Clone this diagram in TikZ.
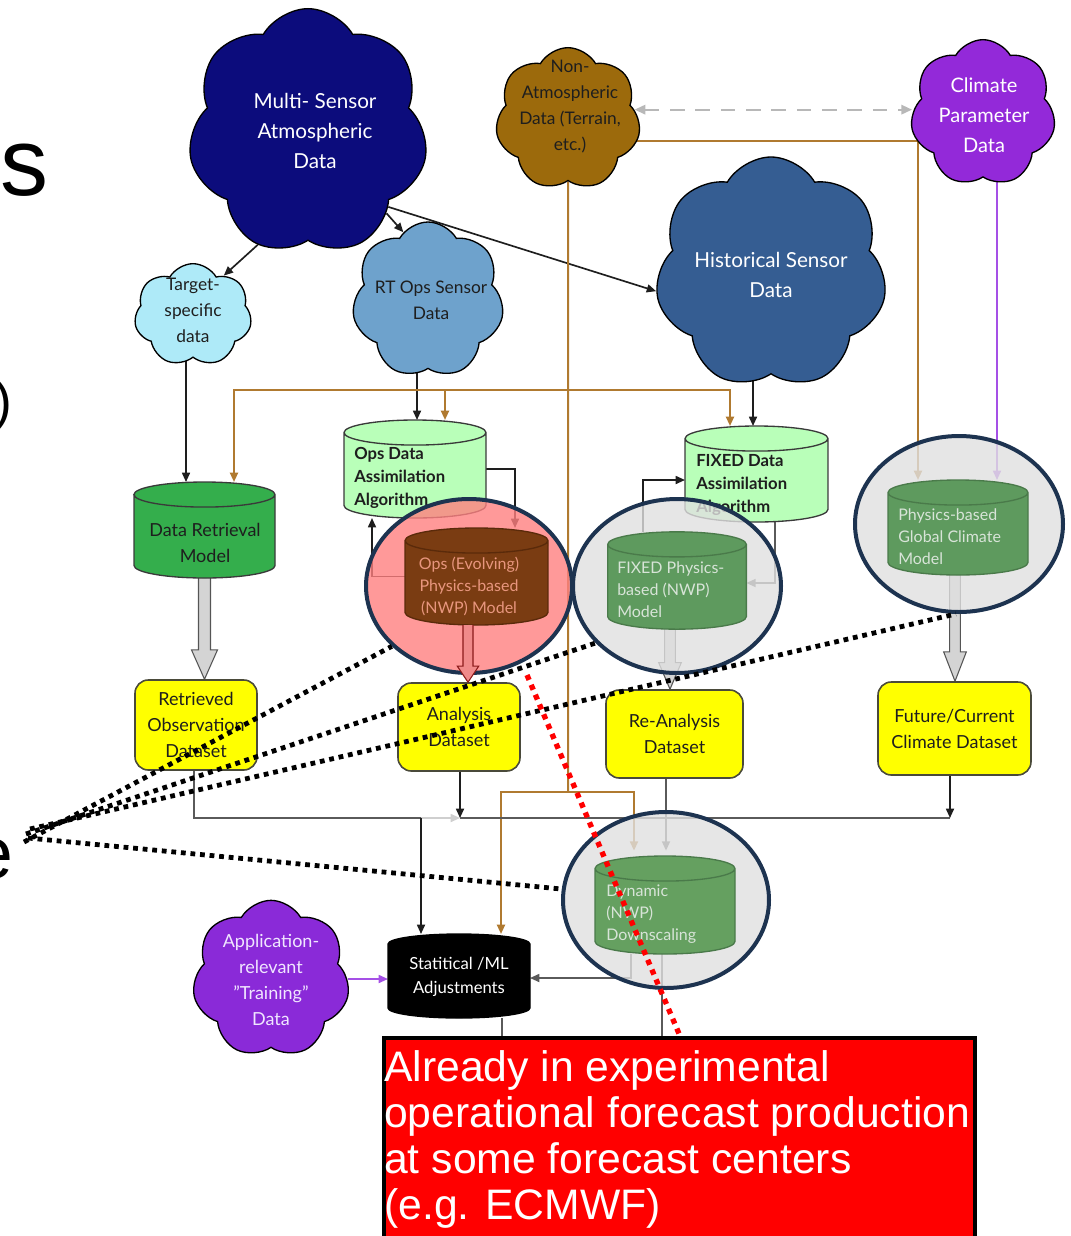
\documentclass[tikz,border=0pt]{standalone}
\usepackage{fontspec}
\setmainfont{Lato}
\newfontfamily\arialf{Liberation Sans}
\usetikzlibrary{shapes.geometric,shapes.symbols,arrows.meta,calc}
\pgfdeclarelayer{bg}\pgfdeclarelayer{fg}\pgfsetlayers{bg,main,fg}
\definecolor{navy}{HTML}{0C0C7C}
\definecolor{nabrown}{HTML}{9C6A0C}
\definecolor{cppurple}{HTML}{9329D9}
\definecolor{hsblue}{HTML}{355D92}
\definecolor{tgcyan}{HTML}{AEEAF8}
\definecolor{rtblue}{HTML}{6EA2CC}
\definecolor{apppurple}{HTML}{8A2AD8}
\definecolor{dagreen}{HTML}{B9FFB9}
\definecolor{drmgreen}{HTML}{34AE4C}
\definecolor{opsbrown}{HTML}{7A3C12}
\definecolor{opstext}{HTML}{E8967E}
\definecolor{physgreen}{HTML}{5E9A5E}
\definecolor{dyngreen}{HTML}{65A060}
\definecolor{phystext}{HTML}{D8E4D8}
\definecolor{ringnavy}{HTML}{1D3350}
\definecolor{ringgrey}{HTML}{E0E0E0}
\definecolor{ringred}{HTML}{FF8080}
\definecolor{lnbrown}{HTML}{B07A30}
\definecolor{lnpurple}{HTML}{A550E6}
\definecolor{lngrey}{HTML}{5A5A5A}
\definecolor{lnblack}{HTML}{1E1E1E}
\definecolor{lnlight}{HTML}{CFCFCF}
\definecolor{dashgrey}{HTML}{B8B8B8}
\definecolor{boxyellow}{HTML}{FFFF00}
\definecolor{ybord}{HTML}{4A4A3A}
\definecolor{txtdark}{HTML}{1E1E1E}
\definecolor{cylbord}{HTML}{3A3A3A}
\definecolor{opsbord}{HTML}{5A2A0A}
\definecolor{physbord}{HTML}{4A7A4A}
\definecolor{hollowfill}{HTML}{D4D4D4}
\definecolor{hollowdraw}{HTML}{555555}
\definecolor{redarrfill}{HTML}{F08A8A}
\definecolor{redarrdraw}{HTML}{8B1A1A}
\definecolor{apptext}{HTML}{F0E6FF}
\newcommand{\hollowarr}[7]{%
  \draw[draw=#7, fill=#6, line width=0.8pt, line join=miter] let \p1=#1, \p2=#2 in
    ({\x1-#3},{\y1}) -- ({\x1-#3},{\y2+#5}) -- ({\x1-#4},{\y2+#5}) -- ({\x1},{\y2})
    -- ({\x1+#4},{\y2+#5}) -- ({\x1+#3},{\y2+#5}) -- ({\x1+#3},{\y1});
}
% cylinder drawn round a named (invisible) node: #1 node, #2 x radius, #3 y radius, #4 fill, #5 draw
\newcommand{\drawcyl}[5]{%
  \draw[fill=#4, draw=#5, line width=1pt] let \p1=(#1.north west), \p2=(#1.south east) in
    (\x1,{\y1-#3}) -- (\x1,{\y2+#3}) arc[start angle=180, end angle=360, x radius=#2, y radius=#3]
    -- (\x2,{\y1-#3}) arc[start angle=0, end angle=180, x radius=#2, y radius=#3] -- cycle
    (\x1,{\y1-#3}) arc[start angle=180, end angle=360, x radius=#2, y radius=#3];
}
\tikzset{
  cloudn/.style={cloud, cloud puffs=7, cloud puff arc=120, cloud ignores aspect, draw=black, line width=1pt, inner sep=0pt},
  cylbox/.style={rectangle, inner sep=0pt, outer sep=0pt},
  ring/.style={ellipse, draw=ringnavy, line width=3pt, fill opacity=0.8, inner sep=0pt},
  ybox/.style={rectangle, rounded corners=10pt, draw=ybord, line width=1.2pt, fill=boxyellow, align=center, inner sep=0pt, text=txtdark, font={\fontsize{13.5}{19.5}\selectfont}},
  lbl/.style={inner sep=0pt, align=center},
  conn/.style={line width=1.25pt, draw=#1, -{Triangle[length=7pt,width=6pt]}},
  conn/.default=lnblack,
  segln/.style={line width=1.25pt, draw=#1},
  segln/.default=lngrey,
  bconn/.style={line width=1.5pt, draw=lnbrown, -{Triangle[length=7pt,width=6pt]}},
  bseg/.style={line width=1.5pt, draw=lnbrown},
  dotl/.style={line width=3.6pt, dash pattern=on 3.6pt off 3.6pt, draw=black},
  rdot/.style={line width=4pt, dash pattern=on 4pt off 4pt, draw=red},
  dconn/.style={line width=1.5pt, draw=dashgrey, dash pattern=on 11pt off 8pt, {Triangle[length=8pt,width=7pt]}-{Triangle[length=8pt,width=7pt]}},
}
\begin{document}
\begin{tikzpicture}[x=0.75pt,y=-0.75pt]
\useasboundingbox (0,0) rectangle (1071,1236);

% cut-off slide letters at the left edge
\node[anchor=base west, inner sep=0pt, font={\arialf\fontsize{72}{72}\selectfont}] (ls) at (0,195) {s};
\node[anchor=base west, inner sep=0pt, font={\arialf\fontsize{40}{40}\selectfont}] (lp) at (-6,419) {)};
\node[anchor=base west, inner sep=0pt, font={\arialf\fontsize{55}{55}\selectfont}] (le) at (-28,878) {e};

% clouds
\node[cloudn, fill=navy, minimum width=180pt, minimum height=185pt] (ms) at (308,132) {};
\node[cloudn, fill=nabrown, minimum width=109pt, minimum height=107pt] (na) at (568,119) {};
\node[cloudn, fill=cppurple, minimum width=109pt, minimum height=110pt] (cp) at (983,113) {};
\node[cloudn, fill=hsblue, minimum width=174pt, minimum height=174pt] (hs) at (771,273) {};
\node[cloudn, fill=tgcyan, minimum width=88pt, minimum height=77pt] (tg) at (193,315) {};
\node[cloudn, fill=rtblue, minimum width=114pt, minimum height=117pt] (rt) at (428,300) {};
\node[cloudn, fill=apppurple, minimum width=118pt, minimum height=118pt] (app) at (271,979) {};

\node[lbl, text=white, font={\fontsize{15.5}{22.5}\selectfont}] (msl) at (315,131) {Multi- Sensor\\Atmospheric\\Data};
\node[lbl, text=txtdark, font={\fontsize{13}{19.5}\selectfont}] (nal) at (570,107) {Non-\\Atmospheric\\Data (Terrain,\\etc.)};
\node[lbl, text=white, font={\fontsize{15}{22.5}\selectfont}] (cpl) at (984,115) {Climate\\Parameter\\Data};
\node[lbl, text=white, font={\fontsize{15.5}{22.5}\selectfont}] (hsl) at (771,275) {Historical Sensor\\Data};
\node[lbl, text=txtdark, font={\fontsize{13}{19.5}\selectfont}] (tgl) at (193,310) {Target-\\specific\\data};
\node[lbl, text=txtdark, font={\fontsize{13}{19.5}\selectfont}] (rtl) at (431,300) {RT Ops Sensor\\Data};
\node[lbl, text=apptext, font={\fontsize{13.5}{19.5}\selectfont}] (appl) at (271,980) {Application-\\relevant\\"Training"\\Data};

% outer cylinders
\node[cylbox, minimum width=106.5pt, minimum height=73.5pt] (opsda) at (415,469) {};
\drawcyl{opsda}{53.25pt}{9.4pt}{dagreen}{cylbord}
\node[cylbox, minimum width=105.75pt, minimum height=72pt] (drm) at (204.5,530) {};
\drawcyl{drm}{52.9pt}{9.4pt}{drmgreen}{cylbord}
\node[cylbox, minimum width=107.25pt, minimum height=72pt] (fixda) at (756.5,474) {};
\drawcyl{fixda}{53.6pt}{9.4pt}{dagreen}{cylbord}
\node[cylbox, minimum width=106.5pt, minimum height=63pt] (stat) at (459,976) {};
\drawcyl{stat}{53.25pt}{7.5pt}{black}{black}

\node[lbl, align=left, text=txtdark, font={\bfseries\fontsize{12.5}{17}\selectfont}, anchor=west] (opsdal) at (354,478) {Ops Data\\Assimilation\\Algorithm};
\node[lbl, text=txtdark, font={\fontsize{13.5}{19}\selectfont}] (drml) at (205,543) {Data Retrieval\\Model};
\node[lbl, align=left, text=txtdark, font={\bfseries\fontsize{12.5}{17}\selectfont}, anchor=west] (fixdal) at (696,485) {FIXED Data\\Assimilation\\Algorithm};
\node[lbl, text=white, font={\fontsize{12.5}{18}\selectfont}] (statl) at (459,977) {Statitical /ML\\Adjustments};

% yellow datasets
\node[ybox, minimum width=91.5pt, minimum height=67.5pt] (ret) at (196,725) {Retrieved\\Observation\\Dataset};
\node[ybox, minimum width=91.5pt, minimum height=66pt] (ana) at (459,727) {Analysis\\Dataset};
\node[ybox, minimum width=102.75pt, minimum height=66pt] (rea) at (674.5,734) {Re-Analysis\\Dataset};
\node[ybox, minimum width=114.75pt, minimum height=69.75pt] (fut) at (954.5,728.5) {Future/Current\\Climate Dataset};

% rings
\node[ring, fill=ringred, minimum width=154.5pt, minimum height=130.5pt] (c1) at (469,586) {};
\node[ring, fill=ringgrey, minimum width=156pt, minimum height=130.5pt] (c2) at (677,586) {};
\node[ring, fill=ringgrey, minimum width=156pt, minimum height=132pt] (c3) at (959,524) {};
\node[ring, fill=ringgrey, minimum width=154.5pt, minimum height=132pt] (c4) at (666,900) {};

% inner cylinders
\node[cylbox, minimum width=107.25pt, minimum height=72.75pt] (opsev) at (476.5,576.5) {};
\drawcyl{opsev}{53.6pt}{9.4pt}{opsbrown}{opsbord}
\node[cylbox, minimum width=104pt, minimum height=73pt] (fixph) at (677,580.5) {};
\drawcyl{fixph}{52pt}{9.4pt}{physgreen}{physbord}
\node[cylbox, minimum width=105pt, minimum height=71.25pt] (glob) at (958,527.5) {};
\drawcyl{glob}{52.5pt}{9.4pt}{physgreen}{physbord}
\node[cylbox, minimum width=105pt, minimum height=73.5pt] (dyn) at (665,905) {};
\drawcyl{dyn}{52.5pt}{9.4pt}{dyngreen}{physbord}

\node[lbl, text=opstext, font={\fontsize{12}{16.5}\selectfont}] (opsevl) at (469,586) {Ops (Evolving)\\Physics-based\\(NWP) Model};
\node[lbl, align=left, text=phystext, font={\fontsize{12}{16.5}\selectfont}, anchor=west] (fixphl) at (617,590) {FIXED Physics-\\based (NWP)\\ Model};
\node[lbl, align=left, text=phystext, font={\fontsize{12}{16.5}\selectfont}, anchor=west] (globl) at (898,537) {Physics-based\\Global Climate\\Model};
\node[lbl, align=left, text=phystext, font={\fontsize{12}{16.5}\selectfont}, anchor=west] (dynl) at (606,914) {Dynamic\\(NWP)\\ Downscaling};

% red box
\node[draw=black, line width=3pt, fill=red, minimum width=443pt, minimum height=165pt, anchor=north west, inner sep=0pt] (rbox) at (382,1036) {};

% helper coordinates
\coordinate (bj1) at (568,390);
\coordinate (bj2) at (568,792);
\coordinate (xb1) at (234,0);
\coordinate (xb2) at (445,0);
\coordinate (xb3) at (730,0);
\coordinate (xb4) at (501,0);
\coordinate (xb5) at (634,0);
\coordinate (xb6) at (918,0);
\coordinate (xp) at (997,0);
\coordinate (xtg) at (186,0);
\coordinate (xrt) at (417,0);
\coordinate (xhs) at (753,0);
\coordinate (xo1) at (515,0);
\coordinate (xo2) at (372,0);
\coordinate (xf1) at (643,0);
\coordinate (xf2) at (775,0);
\coordinate (xret) at (194,0);
\coordinate (xana) at (460,0);
\coordinate (xfut) at (950,0);
\coordinate (xrea) at (666,0);
\coordinate (xst) at (421,0);
\coordinate (xd1) at (631,0);
\coordinate (xd2) at (662,0);
\coordinate (xsb) at (502,0);
\coordinate (xrd) at (680,0);
\coordinate (xh2) at (468,0);
\coordinate (xh3) at (670,0);
\coordinate (xh4) at (955,0);
\coordinate (yh) at (0,818);
\coordinate (yf) at (0,480);
\coordinate (yfb) at (0,583);
\coordinate (yd) at (0,978);

\begin{pgfonlayer}{bg}
\draw[conn] (ms.246) -- (tg.52);
\draw[conn] (ms.314) -- (rt.110);
\draw[conn] (ms.317) -- (hs.189);
\draw[conn] (tg.south -| xtg) -- (drm.north -| xtg);
\draw[conn] (rt.south -| xrt) -- (opsda.north -| xrt);
\draw[bseg] (na.south) -- (bj2);
\draw[bconn] (bj1) -| (drm.north -| xb1);
\draw[bconn] (bj1) -| (opsda.north -| xb2);
\draw[bconn] (bj1) -| (fixda.north -| xb3);
\draw[bconn] (bj2) -| (stat.north -| xb4);
\draw[bconn, shorten >=4pt] (bj2) -| (dyn.north -| xb5);
\draw[bconn] (na.-18) -| (glob.north -| xb6);
\draw[conn=lnpurple] (cp.south -| xp) -- (glob.north -| xp);
\draw[dconn] (na.8) -- (na.8 -| cp.west);
\draw[conn] (hs.south -| xhs) -- (fixda.north -| xhs);
\draw[conn] (opsda.east) -| (opsev.north -| xo1);
\draw[conn] (opsev.west) -| (opsda.south -| xo2);
\draw[conn] (fixph.north -| xf1) |- (fixda.west |- yf);
\draw[conn=lngrey] (fixda.south -| xf2) |- (fixph.east |- yfb);
\hollowarr{(drm.south)}{(drm.south |- ret.north)}{4.5pt}{9.75pt}{22pt}{hollowfill}{hollowdraw}
\hollowarr{(fixph.south -| xh3)}{(rea.north -| xh3)}{4pt}{8.5pt}{20pt}{hollowfill}{hollowdraw}
\hollowarr{(glob.south -| xh4)}{(fut.north -| xh4)}{4pt}{8.5pt}{22pt}{hollowfill}{hollowdraw}
\draw[segln] (ret.south -| xret) |- (yh -| xst);
\draw[conn=lnlight] (yh -| xst) -- (yh -| xana);
\draw[conn] (ana.south -| xana) -- (yh -| xana);
\draw[segln] (yh -| xana) -- (yh -| xfut);
\draw[conn] (fut.south -| xfut) -- (yh -| xfut);
\draw[conn] (yh -| xst) -- (stat.north -| xst);
\draw[conn=lngrey, shorten >=4pt] (rea.south -| xrea) -- (dyn.north -| xrea);
\draw[conn=lngrey] (dyn.south -| xd1) |- (stat.east |- yd);
\draw[segln] (dyn.south -| xd2) -- (rbox.north -| xd2);
\draw[segln] (stat.south -| xsb) -- (rbox.north -| xsb);
\draw[conn=lnpurple] (app.east) -- (app.east -| stat.west);
\end{pgfonlayer}

\begin{pgfonlayer}{fg}
\hollowarr{(opsev.south -| xh2)}{(ana.north -| xh2)}{3.75pt}{8pt}{12pt}{redarrfill}{redarrdraw}
\coordinate (f1) at (24,842);
\coordinate (f2) at (26,834);
\coordinate (f3) at (30,829);
\coordinate (f4) at (28,838);
\draw[dotl] (f1) -- (c1.218);
\draw[dotl] (f2) -- (c2.215);
\draw[dotl] (f3) -- (c3.268);
\draw[dotl] (f4) -- (c4.174);
\node[anchor=north west, inner sep=0pt, align=left, text=white, font={\arialf\fontsize{32}{34.5}\selectfont}] (rtext) at (384,1050) {Already in experimental\\operational forecast production\\at some forecast centers\\(e.g. ECMWF)};
\coordinate (rd) at (527,675);
\draw[rdot] (rd) -- (rbox.north -| xrd);
\end{pgfonlayer}
\end{tikzpicture}
\end{document}
